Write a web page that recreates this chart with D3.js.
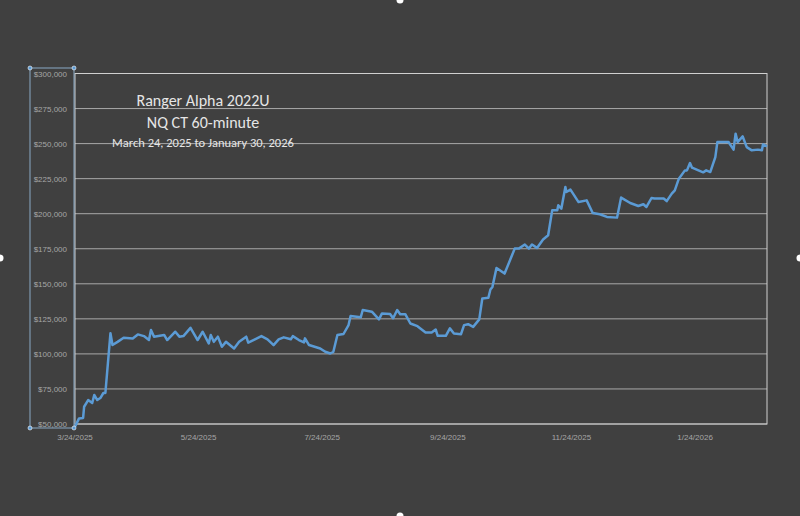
<!DOCTYPE html>
<html>
<head>
<meta charset="utf-8">
<script src="https://cdn.jsdelivr.net/npm/d3@7"></script>
<style>
  body { margin: 0; background: #404040; }
  svg { display: block; }
</style>
</head>
<body>
<svg id="chart" width="800" height="516"></svg>
<script>
// days since 3/24/2025 and account equity
const days = [0, 2, 4, 4.5, 6.5, 8.5, 9.5, 11, 12.5, 14, 15, 17.5, 18.5, 21, 24, 28.5, 31, 34, 36.5, 37.5,
  39, 44, 45.5, 49.5, 51.5, 53.5, 57, 60.5, 63, 66, 67, 68.5, 70.5, 72.5, 74.5, 78.5, 81, 84.5, 85.5, 92,
  95, 98, 100.5, 103, 106.5, 107.5, 110.5, 113, 113.5, 115.5, 121, 123.5, 126, 127.5, 129.5, 132.5, 135, 136, 141, 142,
  146.5, 150, 151.5, 155.5, 157, 159, 160.5, 163, 165.5, 169, 173, 176, 178, 179, 183, 185, 187, 190.5, 192, 194,
  196.5, 199.5, 201, 204, 205, 206, 208, 212, 217, 219, 222, 224, 225.5, 228, 231, 233.5, 235.5, 238, 238.5, 240,
  242, 242.5, 244.5, 248.5, 252.5, 255.5, 259, 262.5, 267.5, 269.5, 274, 278, 280.5, 282, 284.5, 286, 290.5, 292, 294.5, 296,
  298, 301, 302, 303.5, 304.5, 310, 311.5, 313.5, 316, 317, 319, 322.5, 325, 326, 327, 329.5, 331.5, 334, 337, 339, 339.5, 341.5];
const equity = [48000, 54000, 54300, 62300, 67100, 65000, 70700, 67100, 68500, 72100, 72100, 114800, 106300, 108600, 111500, 111000, 113900, 112700, 109900, 117000,
  112300, 113500, 109900, 115800, 112300, 112700, 118600, 109900, 115800, 107500, 113500, 108600, 112300, 105100, 108600, 103900, 108600, 112300, 108000, 112700,
  110400, 106300, 110400, 111800, 110400, 112700, 109900, 108200, 111100, 106300, 103900, 101500, 100300, 101500, 113500, 114200, 120600, 127000, 126100, 131300,
  130100, 124600, 128900, 128500, 125400, 131300, 128300, 128300, 121700, 119800, 115300, 115300, 117400, 112900, 112900, 118200, 114600, 114100, 120500, 121200,
  119300, 124600, 139500, 140000, 145900, 147800, 161300, 157300, 175100, 175100, 178000, 175100, 178000, 175600, 181600, 184600, 202400, 202400, 206000, 203600,
  219000, 215500, 217200, 208300, 209500, 200500, 199600, 197700, 197200, 211500, 207600, 205500, 206700, 204800, 211200, 210800, 210800, 209000, 214300, 216700,
  225000, 230900, 230900, 236100, 232800, 229500, 230900, 229700, 240400, 251100, 251100, 251100, 245700, 257100, 251100, 255100, 247500, 245200, 245700, 245200, 249400, 248000];
const yTicks = [50000, 75000, 100000, 125000, 150000, 175000, 200000, 225000, 250000, 275000, 300000];
const xTickDates = ["2025-03-24", "2025-05-24", "2025-07-24", "2025-09-24", "2025-11-24", "2026-01-24"];
const titleLines = ["Ranger Alpha 2022U", "NQ CT 60-minute", "March 24, 2025 to January 30, 2026"];

const svg = d3.select("#chart");
const start = new Date(2025, 2, 24);
const toDate = d => new Date(start.getTime() + d * 864e5);
const plot = { left: 75, right: 767, top: 73.5, bottom: 424 };

const x = d3.scaleTime().domain([start, toDate(341.5)]).range([plot.left, plot.right]);
const y = d3.scaleLinear().domain([50000, 300000]).range([plot.bottom, plot.top]);

// gridlines
svg.append("g").selectAll("line").data(yTicks).join("line")
  .attr("x1", plot.left).attr("x2", plot.right)
  .attr("y1", d => y(d)).attr("y2", d => y(d))
  .attr("stroke", "#a8a8a8").attr("stroke-width", 1);

svg.append("rect").attr("x", plot.left).attr("y", plot.top)
  .attr("width", plot.right - plot.left).attr("height", plot.bottom - plot.top)
  .attr("fill", "none").attr("stroke", "#d0d0d0").attr("stroke-width", 1);

// y axis labels
svg.append("g").selectAll("text").data(yTicks).join("text")
  .attr("x", 67).attr("y", d => y(d) + 3)
  .attr("text-anchor", "end")
  .attr("font-family", "Liberation Sans, Arial, sans-serif").attr("font-size", 8)
  .attr("fill", "#a6a6a6")
  .text(d3.format("$,"));

// x axis labels
const fmt = d3.timeFormat("%-m/%-d/%Y");
svg.append("g").selectAll("text").data(xTickDates.map(d3.timeParse("%Y-%m-%d"))).join("text")
  .attr("x", d => x(d)).attr("y", 440)
  .attr("text-anchor", "middle")
  .attr("font-family", "Liberation Sans, Arial, sans-serif").attr("font-size", 8)
  .attr("fill", "#a6a6a6")
  .text(fmt);

// equity line
const pts = days.map((d, i) => [toDate(d), equity[i]]);
svg.append("path").datum(pts)
  .attr("fill", "none").attr("stroke", "#5b9bd5").attr("stroke-width", 2.5)
  .attr("stroke-linejoin", "round")
  .attr("d", d3.line().x(d => x(d[0])).y(d => y(d[1])));

// title
svg.append("g").selectAll("text").data(titleLines).join("text")
  .attr("x", 203).attr("y", (d, i) => [106, 128, 147][i])
  .attr("text-anchor", "middle")
  .attr("font-family", "Carlito, Liberation Sans, sans-serif")
  .attr("font-size", (d, i) => i < 2 ? 16 : 12.5)
  .attr("fill", "#e6e6e6")
  .text(d => d);

// selection frame of the axis box
svg.append("rect").attr("x", 30).attr("y", 68).attr("width", 44).attr("height", 360)
  .attr("fill", "none").attr("stroke", "#9cc3e6").attr("stroke-width", 0.8);
svg.append("g").selectAll("circle").data([[30, 68], [74, 68], [30, 428], [74, 428]]).join("circle")
  .attr("cx", d => d[0]).attr("cy", d => d[1]).attr("r", 2)
  .attr("fill", "#5b9bd5").attr("stroke", "#fff").attr("stroke-width", 0.6);
svg.append("g").selectAll("circle").data([[400, 0], [400, 516], [0, 258], [800, 258]]).join("circle")
  .attr("cx", d => d[0]).attr("cy", d => d[1]).attr("r", 3.5)
  .attr("fill", "#fff");
</script>
</body>
</html>
